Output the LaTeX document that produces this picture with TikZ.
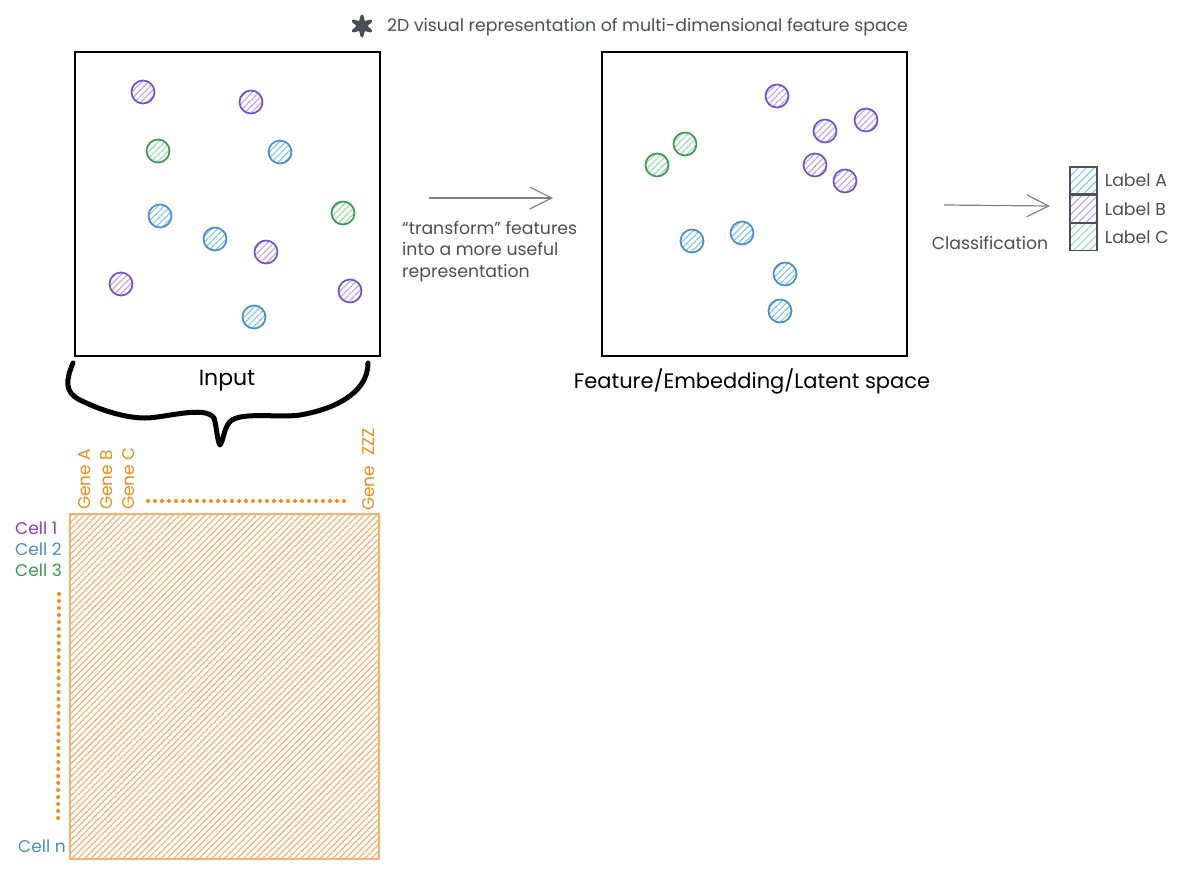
\documentclass[tikz,border=0pt]{standalone}
\usepackage{fontspec}
\setmainfont{Poppins}
\usepackage{tikz}
\usetikzlibrary{arrows.meta, patterns.meta, positioning, shapes.geometric}
\definecolor{inkGray}{HTML}{4A4F57}
\definecolor{strokeA}{HTML}{4A8CC7}
\definecolor{strokeB}{HTML}{7350D0}
\definecolor{strokeC}{HTML}{3C9A50}
\definecolor{hatchA}{HTML}{86C5F2}
\definecolor{hatchB}{HTML}{BFAAF0}
\definecolor{hatchC}{HTML}{A0DDB0}
\definecolor{geneOrange}{HTML}{F08C1A}
\definecolor{matrixOrange}{HTML}{F8B070}
\definecolor{cellPurple}{HTML}{9C36B5}
\newcommand\spaceW{305}
\newcommand\dotR{23}
\tikzset{
    hatched/.style={pattern={Lines[angle=45,distance=#1,line width=1.2pt]}},
    spaceBox/.style={draw=black, line width=1.3pt, minimum width=\spaceW, minimum height=304, inner sep=0pt},
    pointA/.style={circle, draw=strokeA, line width=1.7pt, minimum size=\dotR, inner sep=0pt, hatched=4.5pt, pattern color=hatchA},
    pointB/.style={circle, draw=strokeB, line width=1.7pt, minimum size=\dotR, inner sep=0pt, hatched=4.5pt, pattern color=hatchB},
    pointC/.style={circle, draw=strokeC, line width=1.7pt, minimum size=\dotR, inner sep=0pt, hatched=4.5pt, pattern color=hatchC},
    legendBox/.style={draw=inkGray, line width=1.2pt, minimum width=27, minimum height=27, inner sep=0pt, hatched=5.5pt},
    note/.style={text=inkGray, font=\fontsize{17.3}{21.5}\selectfont, inner sep=0pt},
    heading/.style={text=black, font=\fontsize{#1}{#1}\selectfont, inner sep=0pt},
    gene/.style={text=geneOrange, font=\fontsize{17}{17}\selectfont, rotate=90, anchor=west, inner sep=0pt},
    cell/.style={font=\fontsize{17}{17}\selectfont, anchor=west, inner sep=0pt},
    sketchArrow/.style={draw=gray, line width=1.2pt, -{Straight Barb[length=22pt,width=22pt,line width=1.2pt]}},
    dotLine/.style={draw=geneOrange, line width=4pt, line cap=round, dash pattern=on 0pt off 7pt}
}
\begin{document}
\begin{tikzpicture}[x=1pt, y=-1pt]
    \useasboundingbox (0,0) rectangle (1181,873);

    % header
    \node[star, star points=6, star point ratio=2.8, fill=inkGray, draw=inkGray, line width=3pt, line join=round, minimum size=20, inner sep=0pt] (mark) at (362,26) {};
    \node[note, anchor=west] (spaceNote) at (387,27) {2D visual representation of multi-dimensional feature space};

    % input space
    \node[spaceBox] (inputBox) at (227.5,204) {};
    \foreach \x/\y [count=\i] in {160/216, 215/239, 280/152, 254/317}
        \node[pointA] (inA\i) at (\x,\y) {};
    \foreach \x/\y [count=\i] in {143/92, 251/102, 266/252, 121/284, 350/291}
        \node[pointB] (inB\i) at (\x,\y) {};
    \foreach \x/\y [count=\i] in {158/151, 343/213}
        \node[pointC] (inC\i) at (\x,\y) {};
    \node[heading=22] (inputText) at (227,381) {Input};

    % latent space
    \node[spaceBox] (latentBox) at (754.5,204) {};
    \foreach \x/\y [count=\i] in {692/241, 742/233, 785/274, 780/311}
        \node[pointA] (outA\i) at (\x,\y) {};
    \foreach \x/\y [count=\i] in {777/96, 825/131, 866/120, 815/165, 845/181}
        \node[pointB] (outB\i) at (\x,\y) {};
    \foreach \x/\y [count=\i] in {685/144, 657/165}
        \node[pointC] (outC\i) at (\x,\y) {};
    \node[heading=21] (latentText) at (752,381) {Feature/Embedding/Latent space};

    % arrows
    \coordinate (transformStart) at (429,198);
    \coordinate (transformEnd) at (553,198);
    \draw[sketchArrow] (transformStart) -- (transformEnd);
    \node[note, anchor=north west, align=left] (transformText) at (402,221) {``transform'' features\\into a more useful\\representation};
    \coordinate (classifyStart) at (944,205);
    \coordinate (classifyEnd) at (1050,206);
    \draw[sketchArrow] (classifyStart) -- (classifyEnd);
    \node[note] (classifyText) at (990,243) {Classification};

    % legend
    \node[legendBox, pattern color=hatchA] (legendA) at (1083.5,180.5) {};
    \node[legendBox, pattern color=hatchB, below=0pt of legendA] (legendB) {};
    \node[legendBox, pattern color=hatchC, below=0pt of legendB] (legendC) {};
    \node[note, right=7pt of legendA] (labelA) {Label A};
    \node[note, right=7pt of legendB] (labelB) {Label B};
    \node[note, right=7pt of legendC] (labelC) {Label C};

    % brace
    \draw[line width=5pt, line cap=round, line join=round] (73,363)
        .. controls (66,380) and (64,392) .. (80,400)
        .. controls (100,410) and (125,418) .. (145,418)
        .. controls (165,418) and (205,405) .. (214,418)
        .. controls (217,428) and (217,440) .. (220,445)
        .. controls (224,440) and (224,425) .. (232,420)
        .. controls (245,412) and (280,418) .. (300,415)
        .. controls (330,410) and (368,395) .. (368,363);

    % matrix
    \node[draw=matrixOrange, line width=1.5pt, minimum width=309, minimum height=345, inner sep=0pt, hatched=4.5pt, pattern color=matrixOrange] (matrixBox) at (224.5,686.5) {};
    \node[gene] (geneA) at (85,510) {Gene A};
    \node[gene] (geneB) at (107,510) {Gene B};
    \node[gene] (geneC) at (129,510) {Gene C};
    \node[gene] (geneZ) at (369,511) {Gene\hspace{10pt}ZZZ};
    \coordinate (geneDotsStart) at (148,501);
    \coordinate (geneDotsEnd) at (348,501);
    \draw[dotLine] (geneDotsStart) -- (geneDotsEnd);
    \node[cell, text=cellPurple] (cellOne) at (15,528) {Cell 1};
    \node[cell, text=strokeA] (cellTwo) at (15,549) {Cell 2};
    \node[cell, text=strokeC] (cellThree) at (15,570) {Cell 3};
    \node[cell, text=strokeA] (cellN) at (18,846) {Cell n};
    \coordinate (cellDotsStart) at (59,594);
    \coordinate (cellDotsEnd) at (58,824);
    \draw[dotLine] (cellDotsStart) -- (cellDotsEnd);
\end{tikzpicture}
\end{document}
